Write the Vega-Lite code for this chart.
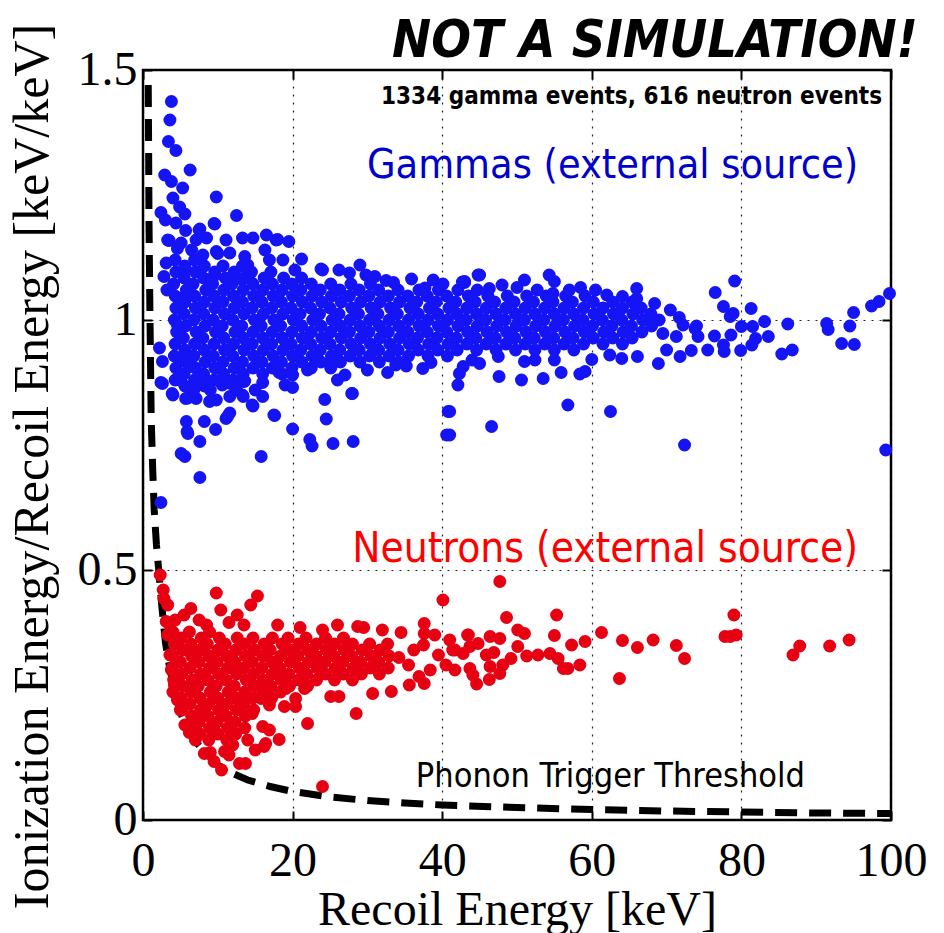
{
  "$schema": "https://vega.github.io/schema/vega-lite/v6.json",
  "width": 748,
  "height": 750,
  "autosize": {"type": "none"},
  "padding": {"left": 143, "top": 70, "right": 53, "bottom": 113},
  "background": "white",
  "config": {
    "view": {"stroke": "black", "strokeWidth": 2.5},
    "axis": {
      "domain": false,
      "labelFont": "Liberation Serif",
      "labelFontSize": 48,
      "labelColor": "black",
      "titleFont": "Liberation Serif",
      "titleFontWeight": "normal",
      "titleColor": "black",
      "tickColor": "black",
      "tickWidth": 2,
      "tickSize": -9,
      "gridColor": "black",
      "gridDash": [2, 6],
      "gridWidth": 1.2,
      "gridOpacity": 0.85
    }
  },
  "datasets": {
    "threshold": [
      {"x": 0.7, "y": 1.47}, {"x": 0.75, "y": 1.35}, {"x": 0.8, "y": 1.2}, {"x": 0.9, "y": 1.05},
      {"x": 1.0, "y": 0.92}, {"x": 1.1, "y": 0.8}, {"x": 1.3, "y": 0.7}, {"x": 1.5, "y": 0.62},
      {"x": 1.8, "y": 0.55}, {"x": 2.1, "y": 0.5}, {"x": 2.5, "y": 0.43}, {"x": 3.0, "y": 0.355},
      {"x": 3.5, "y": 0.31}, {"x": 4.0, "y": 0.275}, {"x": 5.0, "y": 0.215}, {"x": 6.0, "y": 0.182},
      {"x": 7.0, "y": 0.158}, {"x": 8.0, "y": 0.14}, {"x": 9.0, "y": 0.125}, {"x": 10.0, "y": 0.11},
      {"x": 12.0, "y": 0.093}, {"x": 14.0, "y": 0.08}, {"x": 17.0, "y": 0.067}, {"x": 20.0, "y": 0.057},
      {"x": 25.0, "y": 0.046}, {"x": 30.0, "y": 0.039}, {"x": 35.0, "y": 0.034}, {"x": 40.0, "y": 0.03},
      {"x": 50.0, "y": 0.025}, {"x": 60.0, "y": 0.021}, {"x": 70.0, "y": 0.018}, {"x": 80.0, "y": 0.016},
      {"x": 90.0, "y": 0.014}, {"x": 100.0, "y": 0.013}
    ],
    "gammas": [
      {"x":4.3,"y":0.88},{"x":4.4,"y":0.904},{"x":4.2,"y":0.928},{"x":4.3,"y":0.952},{"x":4.5,"y":0.976},{"x":4.2,"y":1.0},{"x":4.4,"y":1.024},{"x":4.3,"y":1.048},{"x":4.1,"y":1.072},{"x":4.4,"y":1.096},{"x":4.3,"y":1.12},
      {"x":5.6,"y":0.868},{"x":5.5,"y":0.892},{"x":5.7,"y":0.916},{"x":5.6,"y":0.94},{"x":5.4,"y":0.964},{"x":5.7,"y":0.988},{"x":5.5,"y":1.012},{"x":5.6,"y":1.036},{"x":5.8,"y":1.06},{"x":5.5,"y":1.084},{"x":5.6,"y":1.108},
      {"x":6.9,"y":0.88},{"x":7.0,"y":0.904},{"x":6.8,"y":0.928},{"x":6.9,"y":0.952},{"x":7.1,"y":0.976},{"x":6.8,"y":1.0},{"x":7.0,"y":1.024},{"x":6.9,"y":1.048},{"x":6.7,"y":1.072},{"x":7.0,"y":1.096},{"x":6.9,"y":1.12},
      {"x":8.2,"y":0.868},{"x":8.1,"y":0.892},{"x":8.3,"y":0.916},{"x":8.2,"y":0.94},{"x":8.0,"y":0.964},{"x":8.3,"y":0.988},{"x":8.1,"y":1.012},{"x":8.2,"y":1.036},{"x":8.4,"y":1.06},{"x":8.1,"y":1.084},{"x":8.2,"y":1.108},
      {"x":9.5,"y":0.88},{"x":9.6,"y":0.904},{"x":9.4,"y":0.928},{"x":9.5,"y":0.952},{"x":9.7,"y":0.976},{"x":9.4,"y":1.0},{"x":9.6,"y":1.024},{"x":9.5,"y":1.048},{"x":9.3,"y":1.072},{"x":9.6,"y":1.096},
      {"x":10.8,"y":0.892},{"x":10.7,"y":0.916},{"x":10.9,"y":0.94},{"x":10.8,"y":0.964},{"x":10.6,"y":0.988},{"x":10.9,"y":1.012},{"x":10.7,"y":1.036},{"x":10.8,"y":1.06},{"x":11.0,"y":1.084},{"x":10.7,"y":1.108},
      {"x":12.1,"y":0.88},{"x":12.2,"y":0.904},{"x":12.0,"y":0.928},{"x":12.1,"y":0.952},{"x":12.3,"y":0.976},{"x":12.0,"y":1.0},{"x":12.2,"y":1.024},{"x":12.1,"y":1.048},{"x":11.9,"y":1.072},{"x":12.2,"y":1.096},
      {"x":13.4,"y":0.892},{"x":13.3,"y":0.916},{"x":13.5,"y":0.94},{"x":13.4,"y":0.964},{"x":13.2,"y":0.988},{"x":13.5,"y":1.012},{"x":13.3,"y":1.036},{"x":13.4,"y":1.06},{"x":13.6,"y":1.084},{"x":13.3,"y":1.108},
      {"x":14.7,"y":0.904},{"x":14.8,"y":0.928},{"x":14.6,"y":0.952},{"x":14.7,"y":0.976},{"x":14.9,"y":1.0},{"x":14.6,"y":1.024},{"x":14.8,"y":1.048},{"x":14.7,"y":1.072},{"x":14.5,"y":1.096},
      {"x":16.0,"y":0.892},{"x":15.9,"y":0.916},{"x":16.1,"y":0.94},{"x":16.0,"y":0.964},{"x":15.8,"y":0.988},{"x":16.1,"y":1.012},{"x":15.9,"y":1.036},{"x":16.0,"y":1.06},{"x":16.2,"y":1.084},
      {"x":17.3,"y":0.904},{"x":17.4,"y":0.928},{"x":17.2,"y":0.952},{"x":17.3,"y":0.976},{"x":17.5,"y":1.0},{"x":17.2,"y":1.024},{"x":17.4,"y":1.048},{"x":17.3,"y":1.072},{"x":17.1,"y":1.096},
      {"x":18.6,"y":0.892},{"x":18.5,"y":0.916},{"x":18.7,"y":0.94},{"x":18.6,"y":0.964},{"x":18.4,"y":0.988},{"x":18.7,"y":1.012},{"x":18.5,"y":1.036},{"x":18.6,"y":1.06},{"x":18.8,"y":1.084},
      {"x":19.9,"y":0.904},{"x":20.0,"y":0.928},{"x":19.8,"y":0.952},{"x":19.9,"y":0.976},{"x":20.1,"y":1.0},{"x":19.8,"y":1.024},{"x":20.0,"y":1.048},{"x":19.9,"y":1.072},
      {"x":21.2,"y":0.916},{"x":21.1,"y":0.94},{"x":21.3,"y":0.964},{"x":21.2,"y":0.988},{"x":21.0,"y":1.012},{"x":21.3,"y":1.036},{"x":21.1,"y":1.06},{"x":21.2,"y":1.084},
      {"x":22.5,"y":0.904},{"x":22.6,"y":0.928},{"x":22.4,"y":0.952},{"x":22.5,"y":0.976},{"x":22.7,"y":1.0},{"x":22.4,"y":1.024},{"x":22.6,"y":1.048},{"x":22.5,"y":1.072},
      {"x":23.8,"y":0.916},{"x":23.7,"y":0.94},{"x":23.9,"y":0.964},{"x":23.8,"y":0.988},{"x":23.6,"y":1.012},{"x":23.9,"y":1.036},{"x":23.7,"y":1.06},
      {"x":25.1,"y":0.904},{"x":25.2,"y":0.928},{"x":25.0,"y":0.952},{"x":25.1,"y":0.976},{"x":25.3,"y":1.0},{"x":25.0,"y":1.024},{"x":25.2,"y":1.048},{"x":25.1,"y":1.072},
      {"x":26.4,"y":0.916},{"x":26.3,"y":0.94},{"x":26.5,"y":0.964},{"x":26.4,"y":0.988},{"x":26.2,"y":1.012},{"x":26.5,"y":1.036},{"x":26.3,"y":1.06},
      {"x":27.7,"y":0.928},{"x":27.8,"y":0.952},{"x":27.6,"y":0.976},{"x":27.7,"y":1.0},{"x":27.9,"y":1.024},{"x":27.6,"y":1.048},{"x":27.8,"y":1.072},
      {"x":29.0,"y":0.916},{"x":28.9,"y":0.94},{"x":29.1,"y":0.964},{"x":29.0,"y":0.988},{"x":28.8,"y":1.012},{"x":29.1,"y":1.036},{"x":28.9,"y":1.06},
      {"x":30.3,"y":0.928},{"x":30.4,"y":0.952},{"x":30.2,"y":0.976},{"x":30.3,"y":1.0},{"x":30.5,"y":1.024},{"x":30.2,"y":1.048},{"x":30.4,"y":1.072},
      {"x":31.6,"y":0.916},{"x":31.5,"y":0.94},{"x":31.7,"y":0.964},{"x":31.6,"y":0.988},{"x":31.4,"y":1.012},{"x":31.7,"y":1.036},{"x":31.5,"y":1.06},
      {"x":32.9,"y":0.928},{"x":33.0,"y":0.952},{"x":32.8,"y":0.976},{"x":32.9,"y":1.0},{"x":33.1,"y":1.024},{"x":32.8,"y":1.048},
      {"x":34.2,"y":0.916},{"x":34.1,"y":0.94},{"x":34.3,"y":0.964},{"x":34.2,"y":0.988},{"x":34.0,"y":1.012},{"x":34.3,"y":1.036},{"x":34.1,"y":1.06},
      {"x":35.5,"y":0.928},{"x":35.6,"y":0.952},{"x":35.4,"y":0.976},{"x":35.5,"y":1.0},{"x":35.7,"y":1.024},{"x":35.4,"y":1.048},
      {"x":36.8,"y":0.94},{"x":36.7,"y":0.964},{"x":36.9,"y":0.988},{"x":36.8,"y":1.012},{"x":36.6,"y":1.036},{"x":36.9,"y":1.06},
      {"x":38.1,"y":0.928},{"x":38.2,"y":0.952},{"x":38.0,"y":0.976},{"x":38.1,"y":1.0},{"x":38.3,"y":1.024},{"x":38.0,"y":1.048},
      {"x":39.4,"y":0.94},{"x":39.3,"y":0.964},{"x":39.5,"y":0.988},{"x":39.4,"y":1.012},{"x":39.2,"y":1.036},{"x":39.5,"y":1.06},
      {"x":40.7,"y":0.928},{"x":40.8,"y":0.952},{"x":40.6,"y":0.976},{"x":40.7,"y":1.0},{"x":40.9,"y":1.024},{"x":40.6,"y":1.048},
      {"x":42.0,"y":0.94},{"x":41.9,"y":0.964},{"x":42.1,"y":0.988},{"x":42.0,"y":1.012},{"x":41.8,"y":1.036},{"x":42.1,"y":1.06},
      {"x":43.3,"y":0.952},{"x":43.4,"y":0.976},{"x":43.2,"y":1.0},{"x":43.3,"y":1.024},{"x":43.5,"y":1.048},
      {"x":44.6,"y":0.94},{"x":44.5,"y":0.964},{"x":44.7,"y":0.988},{"x":44.6,"y":1.012},{"x":44.4,"y":1.036},{"x":44.7,"y":1.06},
      {"x":45.9,"y":0.952},{"x":46.0,"y":0.976},{"x":45.8,"y":1.0},{"x":45.9,"y":1.024},{"x":46.1,"y":1.048},
      {"x":47.2,"y":0.94},{"x":47.1,"y":0.964},{"x":47.3,"y":0.988},{"x":47.2,"y":1.012},{"x":47.0,"y":1.036},
      {"x":48.5,"y":0.952},{"x":48.6,"y":0.976},{"x":48.4,"y":1.0},{"x":48.5,"y":1.024},{"x":48.7,"y":1.048},
      {"x":49.8,"y":0.94},{"x":49.7,"y":0.964},{"x":49.9,"y":0.988},{"x":49.8,"y":1.012},{"x":49.6,"y":1.036},
      {"x":51.1,"y":0.952},{"x":51.2,"y":0.976},{"x":51.0,"y":1.0},{"x":51.1,"y":1.024},{"x":51.3,"y":1.048},
      {"x":52.4,"y":0.94},{"x":52.3,"y":0.964},{"x":52.5,"y":0.988},{"x":52.4,"y":1.012},{"x":52.2,"y":1.036},
      {"x":53.7,"y":0.952},{"x":53.8,"y":0.976},{"x":53.6,"y":1.0},{"x":53.7,"y":1.024},{"x":53.9,"y":1.048},
      {"x":55.0,"y":0.94},{"x":54.9,"y":0.964},{"x":55.1,"y":0.988},{"x":55.0,"y":1.012},{"x":54.8,"y":1.036},
      {"x":56.3,"y":0.952},{"x":56.4,"y":0.976},{"x":56.2,"y":1.0},{"x":56.3,"y":1.024},{"x":56.5,"y":1.048},
      {"x":57.6,"y":0.94},{"x":57.5,"y":0.964},{"x":57.7,"y":0.988},{"x":57.6,"y":1.012},{"x":57.4,"y":1.036},
      {"x":58.9,"y":0.952},{"x":59.0,"y":0.976},{"x":58.8,"y":1.0},{"x":58.9,"y":1.024},{"x":59.1,"y":1.048},
      {"x":60.2,"y":0.964},{"x":60.1,"y":0.988},{"x":60.3,"y":1.012},{"x":60.2,"y":1.036},
      {"x":61.5,"y":0.952},{"x":61.6,"y":0.976},{"x":61.4,"y":1.0},{"x":61.5,"y":1.024},
      {"x":62.8,"y":0.964},{"x":62.7,"y":0.988},{"x":62.9,"y":1.012},{"x":62.8,"y":1.036},
      {"x":64.1,"y":0.952},{"x":64.2,"y":0.976},{"x":64.0,"y":1.0},{"x":64.1,"y":1.024},
      {"x":65.4,"y":0.964},{"x":65.3,"y":0.988},{"x":65.5,"y":1.012},{"x":65.4,"y":1.036},
      {"x":66.7,"y":0.976},{"x":66.8,"y":1.0},{"x":66.6,"y":1.024},
      {"x":68.0,"y":0.988},{"x":67.9,"y":1.012},
      {"x":3.8,"y":1.437},{"x":3.6,"y":1.4},{"x":3.4,"y":1.357},{"x":4.4,"y":1.339},{"x":6.3,"y":1.3},{"x":2.9,"y":1.29},{"x":3.8,"y":1.277},{"x":5.3,"y":1.264},{"x":4.0,"y":1.244},{"x":9.8,"y":1.246},
      {"x":4.9,"y":1.226},{"x":5.6,"y":1.212},{"x":2.4,"y":1.215},{"x":12.5,"y":1.209},{"x":3.0,"y":1.2},{"x":4.4,"y":1.194},{"x":9.6,"y":1.192},{"x":5.7,"y":1.179},{"x":7.6,"y":1.182},{"x":3.5,"y":1.159},
      {"x":5.1,"y":1.154},{"x":7.1,"y":1.16},{"x":8.5,"y":1.164},{"x":11.1,"y":1.16},{"x":13.3,"y":1.164},{"x":14.7,"y":1.164},{"x":16.5,"y":1.17},{"x":17.8,"y":1.16},{"x":19.5,"y":1.157},{"x":21.2,"y":1.122},
      {"x":23.8,"y":1.102},{"x":26.2,"y":1.1},{"x":27.6,"y":1.094},{"x":29.0,"y":1.11},{"x":31.0,"y":1.087},{"x":32.5,"y":1.079},{"x":35.9,"y":1.082},{"x":37.7,"y":1.064},{"x":42.7,"y":1.076},{"x":44.8,"y":1.09},
      {"x":9.8,"y":1.137},{"x":11.6,"y":1.134},{"x":16.3,"y":1.14},{"x":16.9,"y":1.12},{"x":13.6,"y":1.127},{"x":3.1,"y":1.114},{"x":2.8,"y":1.087},{"x":3.2,"y":1.06},{"x":5.3,"y":1.044},{"x":4.6,"y":0.99},
      {"x":2.2,"y":0.944},{"x":3.3,"y":1.16},{"x":4.6,"y":1.143},{"x":7.5,"y":1.18},{"x":9.5,"y":1.193},{"x":18.0,"y":1.161},{"x":10.0,"y":1.133},{"x":24.0,"y":1.1},{"x":40.1,"y":1.072},{"x":43.0,"y":1.075},
      {"x":5.7,"y":1.1},{"x":9.5,"y":1.088},{"x":12.9,"y":1.083},{"x":8.0,"y":1.13},{"x":6.5,"y":1.14},{"x":14.0,"y":1.11},{"x":18.7,"y":1.12},{"x":20.3,"y":1.1},
      {"x":2.6,"y":0.917},{"x":5.1,"y":0.924},{"x":6.2,"y":0.907},{"x":2.4,"y":0.875},{"x":4.0,"y":0.85},{"x":4.9,"y":0.88},{"x":6.0,"y":0.844},{"x":7.6,"y":0.877},{"x":8.9,"y":0.877},{"x":10.2,"y":0.904},
      {"x":11.6,"y":0.877},{"x":13.6,"y":0.878},{"x":16.0,"y":0.875},{"x":9.8,"y":0.84},{"x":11.6,"y":0.847},{"x":13.4,"y":0.847},{"x":14.7,"y":0.828},{"x":16.0,"y":0.847},{"x":11.1,"y":0.803},{"x":11.6,"y":0.814},
      {"x":17.6,"y":0.809},{"x":5.8,"y":0.797},{"x":8.2,"y":0.797},{"x":9.7,"y":0.781},{"x":6.0,"y":0.773},{"x":7.6,"y":0.757},{"x":5.1,"y":0.733},{"x":5.6,"y":0.727},{"x":15.8,"y":0.727},{"x":7.6,"y":0.685},
      {"x":2.4,"y":0.635},{"x":20.0,"y":0.865},{"x":20.0,"y":0.782},{"x":22.3,"y":0.761},{"x":22.6,"y":0.748},{"x":24.3,"y":0.841},{"x":24.5,"y":0.802},{"x":25.4,"y":0.753},{"x":28.0,"y":0.853},{"x":28.1,"y":0.757},
      {"x":22.0,"y":0.9},{"x":20.0,"y":0.89},{"x":32.7,"y":0.895},{"x":35.2,"y":0.908},{"x":37.4,"y":0.903},{"x":40.8,"y":0.817},{"x":40.6,"y":0.77},{"x":42.1,"y":0.87},{"x":25.4,"y":0.914},{"x":23.2,"y":0.92},
      {"x":2.6,"y":0.873},{"x":3.9,"y":0.853},{"x":5.1,"y":0.887},{"x":5.7,"y":0.843},{"x":7.1,"y":0.843},{"x":8.9,"y":0.837},{"x":10.6,"y":0.87},{"x":11.7,"y":0.873},{"x":13.3,"y":0.85},{"x":14.6,"y":0.83},
      {"x":13.5,"y":0.877},{"x":17.5,"y":0.81},{"x":11.3,"y":0.807},{"x":5.9,"y":0.777},{"x":27.9,"y":0.853},{"x":18.2,"y":0.895},{"x":19.0,"y":0.87},{"x":15.0,"y":0.86},{"x":12.5,"y":0.86},{"x":9.0,"y":0.86},
      {"x":6.8,"y":0.86},{"x":27.0,"y":0.89},{"x":30.0,"y":0.9},{"x":33.8,"y":0.91},{"x":38.5,"y":0.915},{"x":44.0,"y":0.92},{"x":26.0,"y":0.88},
      {"x":45.0,"y":1.09},{"x":43.0,"y":1.077},{"x":51.0,"y":1.08},{"x":54.3,"y":1.09},{"x":55.0,"y":1.077},{"x":54.8,"y":1.053},{"x":46.3,"y":1.063},{"x":66.0,"y":1.063},{"x":64.1,"y":1.047},{"x":66.0,"y":1.043},
      {"x":68.4,"y":1.033},{"x":76.5,"y":1.055},{"x":79.1,"y":1.078},{"x":77.6,"y":1.027},{"x":81.3,"y":1.023},{"x":78.9,"y":1.013},{"x":78.5,"y":1.007},{"x":83.1,"y":0.997},{"x":86.2,"y":0.992},{"x":91.4,"y":0.993},
      {"x":91.6,"y":0.981},{"x":94.5,"y":0.988},{"x":95.0,"y":1.015},{"x":97.4,"y":1.028},{"x":98.4,"y":1.037},{"x":99.8,"y":1.053},{"x":93.4,"y":0.953},{"x":95.1,"y":0.951},{"x":85.4,"y":0.932},{"x":86.8,"y":0.94},
      {"x":80.0,"y":0.987},{"x":81.5,"y":0.987},{"x":81.9,"y":0.963},{"x":83.6,"y":0.967},{"x":81.4,"y":0.95},{"x":79.9,"y":0.939},{"x":77.6,"y":0.95},{"x":77.7,"y":0.937},{"x":78.6,"y":0.97},{"x":76.4,"y":0.968},
      {"x":75.5,"y":0.94},{"x":73.3,"y":0.939},{"x":74.2,"y":0.967},{"x":73.8,"y":0.983},{"x":71.7,"y":1.005},{"x":71.8,"y":0.927},{"x":68.9,"y":0.913},{"x":72.4,"y":0.75},{"x":99.3,"y":0.74},{"x":62.5,"y":0.817},
      {"x":56.8,"y":0.83},{"x":46.6,"y":0.787},{"x":41.0,"y":0.817},{"x":41.0,"y":0.77},{"x":47.6,"y":0.887},{"x":50.6,"y":0.88},{"x":53.5,"y":0.883},{"x":55.9,"y":0.895},{"x":58.4,"y":0.892},{"x":59.1,"y":0.897},
      {"x":60.0,"y":0.921},{"x":64.0,"y":0.923},{"x":66.1,"y":0.927},{"x":47.5,"y":0.927},{"x":51.0,"y":0.917},{"x":52.4,"y":0.92},{"x":45.0,"y":0.913},{"x":42.8,"y":0.907},{"x":42.3,"y":0.893},{"x":55.0,"y":0.92},
      {"x":62.4,"y":0.93},{"x":70.0,"y":0.94},{"x":69.5,"y":0.973},{"x":71.3,"y":0.967},{"x":72.2,"y":0.99},{"x":74.0,"y":0.988},{"x":70.5,"y":1.02},{"x":69.0,"y":1.0},{"x":48.0,"y":1.07},{"x":57.0,"y":1.06},
      {"x":60.5,"y":1.06},{"x":62.0,"y":1.05},{"x":38.8,"y":1.08},{"x":33.5,"y":1.075},{"x":29.8,"y":1.09},{"x":50.0,"y":1.065},{"x":52.7,"y":1.06},{"x":58.5,"y":1.065}
    ],
    "neutrons": [
      {"x":4.0,"y":0.256},{"x":4.1,"y":0.28},{"x":3.9,"y":0.304},{"x":4.0,"y":0.328},{"x":4.2,"y":0.352},{"x":4.0,"y":0.376},
      {"x":5.2,"y":0.22},{"x":5.1,"y":0.244},{"x":5.3,"y":0.268},{"x":5.2,"y":0.292},{"x":5.0,"y":0.316},{"x":5.3,"y":0.34},{"x":5.1,"y":0.364},
      {"x":6.4,"y":0.184},{"x":6.5,"y":0.208},{"x":6.3,"y":0.232},{"x":6.4,"y":0.256},{"x":6.6,"y":0.28},{"x":6.3,"y":0.304},{"x":6.5,"y":0.328},{"x":6.4,"y":0.352},{"x":6.2,"y":0.376},
      {"x":7.6,"y":0.172},{"x":7.5,"y":0.196},{"x":7.7,"y":0.22},{"x":7.6,"y":0.244},{"x":7.4,"y":0.268},{"x":7.7,"y":0.292},{"x":7.5,"y":0.316},{"x":7.6,"y":0.34},{"x":7.8,"y":0.364},
      {"x":8.8,"y":0.16},{"x":8.9,"y":0.184},{"x":8.7,"y":0.208},{"x":8.8,"y":0.232},{"x":9.0,"y":0.256},{"x":8.7,"y":0.28},{"x":8.9,"y":0.304},{"x":8.8,"y":0.328},{"x":8.6,"y":0.352},{"x":8.9,"y":0.376},
      {"x":10.0,"y":0.172},{"x":9.9,"y":0.196},{"x":10.1,"y":0.22},{"x":10.0,"y":0.244},{"x":9.8,"y":0.268},{"x":10.1,"y":0.292},{"x":9.9,"y":0.316},{"x":10.0,"y":0.34},{"x":10.2,"y":0.364},
      {"x":11.2,"y":0.16},{"x":11.3,"y":0.184},{"x":11.1,"y":0.208},{"x":11.2,"y":0.232},{"x":11.4,"y":0.256},{"x":11.1,"y":0.28},{"x":11.3,"y":0.304},{"x":11.2,"y":0.328},{"x":11.0,"y":0.352},
      {"x":12.4,"y":0.172},{"x":12.3,"y":0.196},{"x":12.5,"y":0.22},{"x":12.4,"y":0.244},{"x":12.2,"y":0.268},{"x":12.5,"y":0.292},{"x":12.3,"y":0.316},{"x":12.4,"y":0.34},{"x":12.6,"y":0.364},
      {"x":13.6,"y":0.184},{"x":13.7,"y":0.208},{"x":13.5,"y":0.232},{"x":13.6,"y":0.256},{"x":13.8,"y":0.28},{"x":13.5,"y":0.304},{"x":13.7,"y":0.328},{"x":13.6,"y":0.352},
      {"x":14.8,"y":0.22},{"x":14.7,"y":0.244},{"x":14.9,"y":0.268},{"x":14.8,"y":0.292},{"x":14.6,"y":0.316},{"x":14.9,"y":0.34},{"x":14.7,"y":0.364},
      {"x":16.0,"y":0.256},{"x":16.1,"y":0.28},{"x":15.9,"y":0.304},{"x":16.0,"y":0.328},{"x":16.2,"y":0.352},
      {"x":17.2,"y":0.244},{"x":17.1,"y":0.268},{"x":17.3,"y":0.292},{"x":17.2,"y":0.316},{"x":17.0,"y":0.34},{"x":17.3,"y":0.364},
      {"x":18.4,"y":0.256},{"x":18.5,"y":0.28},{"x":18.3,"y":0.304},{"x":18.4,"y":0.328},{"x":18.6,"y":0.352},
      {"x":19.6,"y":0.268},{"x":19.5,"y":0.292},{"x":19.7,"y":0.316},{"x":19.6,"y":0.34},{"x":19.4,"y":0.364},
      {"x":20.8,"y":0.28},{"x":20.9,"y":0.304},{"x":20.7,"y":0.328},{"x":20.8,"y":0.352},
      {"x":22.0,"y":0.268},{"x":21.9,"y":0.292},{"x":22.1,"y":0.316},{"x":22.0,"y":0.34},{"x":21.8,"y":0.364},
      {"x":23.2,"y":0.28},{"x":23.3,"y":0.304},{"x":23.1,"y":0.328},{"x":23.2,"y":0.352},
      {"x":24.4,"y":0.292},{"x":24.3,"y":0.316},{"x":24.5,"y":0.34},{"x":24.4,"y":0.364},
      {"x":25.6,"y":0.28},{"x":25.7,"y":0.304},{"x":25.5,"y":0.328},{"x":25.6,"y":0.352},
      {"x":26.8,"y":0.292},{"x":26.7,"y":0.316},{"x":26.9,"y":0.34},{"x":26.8,"y":0.364},
      {"x":28.0,"y":0.28},{"x":28.1,"y":0.304},{"x":27.9,"y":0.328},{"x":28.0,"y":0.352},
      {"x":29.2,"y":0.292},{"x":29.1,"y":0.316},{"x":29.3,"y":0.34},
      {"x":30.4,"y":0.304},{"x":30.5,"y":0.328},{"x":30.3,"y":0.352},
      {"x":31.6,"y":0.292},{"x":31.5,"y":0.316},{"x":31.7,"y":0.34},
      {"x":32.8,"y":0.304},{"x":32.9,"y":0.328},{"x":32.7,"y":0.352},
      {"x":34.2,"y":0.325},{"x":35.5,"y":0.31},{"x":36.2,"y":0.34},{"x":37.5,"y":0.35},{"x":38.4,"y":0.3},{"x":39.5,"y":0.33},{"x":40.5,"y":0.31},{"x":41.4,"y":0.34},
      {"x":3.3,"y":0.37},{"x":3.6,"y":0.33},{"x":3.8,"y":0.3},{"x":4.2,"y":0.27},{"x":4.6,"y":0.24},{"x":5.0,"y":0.22},{"x":5.6,"y":0.19},{"x":6.2,"y":0.175},{"x":7.0,"y":0.16},
      {"x":2.8,"y":0.443},{"x":9.8,"y":0.454},{"x":15.3,"y":0.448},{"x":14.4,"y":0.43},{"x":10.4,"y":0.42},{"x":6.4,"y":0.423},{"x":12.6,"y":0.41},{"x":5.5,"y":0.41},{"x":3.1,"y":0.397},{"x":40.1,"y":0.44},
      {"x":28.7,"y":0.387},{"x":37.6,"y":0.393},{"x":37.6,"y":0.373},{"x":43.4,"y":0.37},{"x":28.5,"y":0.213},{"x":22.0,"y":0.193},{"x":24.0,"y":0.067},{"x":18.9,"y":0.227},{"x":20.4,"y":0.227},{"x":16.4,"y":0.153},
      {"x":18.2,"y":0.161},{"x":12.9,"y":0.113},{"x":13.7,"y":0.113},{"x":10.5,"y":0.1},{"x":9.5,"y":0.117},{"x":8.2,"y":0.133},{"x":10.9,"y":0.137},{"x":16.2,"y":0.147},{"x":16.0,"y":0.187},{"x":16.9,"y":0.18},
      {"x":15.8,"y":0.243},{"x":16.9,"y":0.23},{"x":14.6,"y":0.213},{"x":35.6,"y":0.27},{"x":36.9,"y":0.287},{"x":37.6,"y":0.273},{"x":33.2,"y":0.257},{"x":30.7,"y":0.253},{"x":25.1,"y":0.247},{"x":26.2,"y":0.247},
      {"x":21.6,"y":0.263},{"x":20.4,"y":0.243},{"x":19.1,"y":0.263},{"x":47.7,"y":0.477},{"x":48.6,"y":0.405},{"x":55.3,"y":0.41},{"x":50.1,"y":0.38},{"x":51.0,"y":0.373},{"x":55.0,"y":0.369},{"x":57.3,"y":0.35},
      {"x":59.1,"y":0.357},{"x":61.3,"y":0.375},{"x":64.1,"y":0.359},{"x":66.1,"y":0.345},{"x":68.2,"y":0.36},{"x":71.3,"y":0.349},{"x":72.4,"y":0.323},{"x":63.7,"y":0.283},{"x":79.0,"y":0.41},{"x":78.5,"y":0.367},
      {"x":77.8,"y":0.367},{"x":79.3,"y":0.37},{"x":86.9,"y":0.33},{"x":87.8,"y":0.348},{"x":91.8,"y":0.348},{"x":94.4,"y":0.36},{"x":43.5,"y":0.37},{"x":46.4,"y":0.367},{"x":47.7,"y":0.363},{"x":46.9,"y":0.335},
      {"x":50.1,"y":0.347},{"x":51.3,"y":0.328},{"x":52.8,"y":0.33},{"x":54.4,"y":0.333},{"x":55.5,"y":0.323},{"x":56.2,"y":0.303},{"x":56.8,"y":0.303},{"x":58.4,"y":0.31},{"x":48.1,"y":0.31},{"x":47.7,"y":0.293},
      {"x":46.4,"y":0.307},{"x":44.6,"y":0.272},{"x":46.3,"y":0.281},{"x":45.9,"y":0.33},{"x":44.8,"y":0.353},{"x":43.7,"y":0.347},{"x":42.8,"y":0.333},{"x":41.7,"y":0.34},{"x":41.7,"y":0.3},{"x":43.7,"y":0.303},
      {"x":44.1,"y":0.29},{"x":49.2,"y":0.323},{"x":41.0,"y":0.36},{"x":2.3,"y":0.49},{"x":2.7,"y":0.46},{"x":3.3,"y":0.43},{"x":3.6,"y":0.39},{"x":4.3,"y":0.4},{"x":7.5,"y":0.4},{"x":8.5,"y":0.39},
      {"x":11.5,"y":0.395},{"x":13.5,"y":0.39},{"x":18.0,"y":0.39},{"x":21.0,"y":0.385},{"x":24.0,"y":0.38},{"x":26.0,"y":0.39},{"x":29.5,"y":0.385},{"x":32.0,"y":0.38},{"x":34.5,"y":0.375},{"x":39.0,"y":0.37},
      {"x":9.0,"y":0.135},{"x":11.5,"y":0.13},{"x":12.0,"y":0.15},{"x":14.0,"y":0.16},{"x":15.0,"y":0.14}
    ]
  },
  "encoding": {
    "x": {
      "field": "x",
      "type": "quantitative",
      "scale": {"domain": [0, 100], "nice": false, "zero": false}
    },
    "y": {
      "field": "y",
      "type": "quantitative",
      "scale": {"domain": [0, 1.5], "nice": false, "zero": false}
    }
  },
  "resolve": {"axis": {"x": "independent", "y": "independent"}},
  "layer": [
    {
      "data": {"name": "threshold"},
      "mark": {"type": "line", "color": "black", "strokeWidth": 7, "strokeDash": [22, 12], "strokeCap": "butt", "clip": true},
      "encoding": {
        "x": {
          "field": "x",
          "type": "quantitative",
          "axis": {
            "orient": "bottom",
            "values": [0, 20, 40, 60, 80, 100],
            "title": "Recoil Energy [keV]",
            "titleFontSize": 48,
            "titleBaseline": "alphabetic",
            "titleY": 104,
            "labelBaseline": "alphabetic",
            "labelPadding": 64,
            "labelFlush": false
          }
        },
        "y": {
          "field": "y",
          "type": "quantitative",
          "axis": {
            "orient": "left",
            "values": [0, 0.5, 1, 1.5],
            "labelExpr": "'' + datum.value",
            "title": "Ionization Energy/Recoil Energy [keV/keV]",
            "titleFontSize": 50,
            "titleBaseline": "alphabetic",
            "titleX": -96,
            "titleY": 396,
            "labelPadding": 15,
            "labelFlush": false
          }
        }
      }
    },
    {
      "data": {"name": "neutrons"},
      "mark": {"type": "circle", "color": "#e60012", "size": 168, "opacity": 1},
      "encoding": {
        "x": {"field": "x", "type": "quantitative", "axis": null},
        "y": {"field": "y", "type": "quantitative", "axis": null}
      }
    },
    {
      "data": {"name": "gammas"},
      "mark": {"type": "circle", "color": "#1414f5", "size": 168, "opacity": 1},
      "encoding": {
        "x": {"field": "x", "type": "quantitative", "axis": null},
        "y": {"field": "y", "type": "quantitative", "axis": null}
      }
    },
    {
      "data": {"values": [{"x": 103.6, "y": 1.526, "t": "NOT A SIMULATION!"}]},
      "mark": {"type": "text", "align": "right", "baseline": "alphabetic", "font": "'Liberation Sans Narrow', 'DejaVu Sans Condensed', Roboto, sans-serif", "fontSize": 52, "fontStyle": "italic", "fontWeight": "bold", "color": "black"},
      "encoding": {
        "text": {"field": "t"},
        "x": {"field": "x", "type": "quantitative", "axis": null},
        "y": {"field": "y", "type": "quantitative", "axis": null}
      }
    },
    {
      "data": {"values": [{"x": 98.8, "y": 1.432, "t": "1334 gamma events, 616 neutron events"}]},
      "mark": {"type": "text", "align": "right", "baseline": "alphabetic", "font": "'Liberation Sans Narrow', 'DejaVu Sans Condensed', Roboto, sans-serif", "fontSize": 24, "fontWeight": "bold", "color": "black"},
      "encoding": {
        "text": {"field": "t"},
        "x": {"field": "x", "type": "quantitative", "axis": null},
        "y": {"field": "y", "type": "quantitative", "axis": null}
      }
    },
    {
      "data": {"values": [{"x": 95.6, "y": 1.284, "t": "Gammas (external source)"}]},
      "mark": {"type": "text", "align": "right", "baseline": "alphabetic", "font": "'Liberation Sans Narrow', 'DejaVu Sans Condensed', Roboto, sans-serif", "fontSize": 41, "color": "#0000cc"},
      "encoding": {
        "text": {"field": "t"},
        "x": {"field": "x", "type": "quantitative", "axis": null},
        "y": {"field": "y", "type": "quantitative", "axis": null}
      }
    },
    {
      "data": {"values": [{"x": 95.6, "y": 0.516, "t": "Neutrons (external source)"}]},
      "mark": {"type": "text", "align": "right", "baseline": "alphabetic", "font": "'Liberation Sans Narrow', 'DejaVu Sans Condensed', Roboto, sans-serif", "fontSize": 42, "color": "#ff0000"},
      "encoding": {
        "text": {"field": "t"},
        "x": {"field": "x", "type": "quantitative", "axis": null},
        "y": {"field": "y", "type": "quantitative", "axis": null}
      }
    },
    {
      "data": {"values": [{"x": 88.5, "y": 0.066, "t": "Phonon Trigger Threshold"}]},
      "mark": {"type": "text", "align": "right", "baseline": "alphabetic", "font": "'Liberation Sans Narrow', 'DejaVu Sans Condensed', Roboto, sans-serif", "fontSize": 34, "color": "black"},
      "encoding": {
        "text": {"field": "t"},
        "x": {
          "field": "x",
          "type": "quantitative",
          "axis": {"orient": "top", "values": [0, 20, 40, 60, 80, 100], "labels": false, "grid": false, "title": null}
        },
        "y": {
          "field": "y",
          "type": "quantitative",
          "axis": {"orient": "right", "values": [0, 0.5, 1, 1.5], "labels": false, "grid": false, "title": null}
        }
      }
    }
  ]
}
